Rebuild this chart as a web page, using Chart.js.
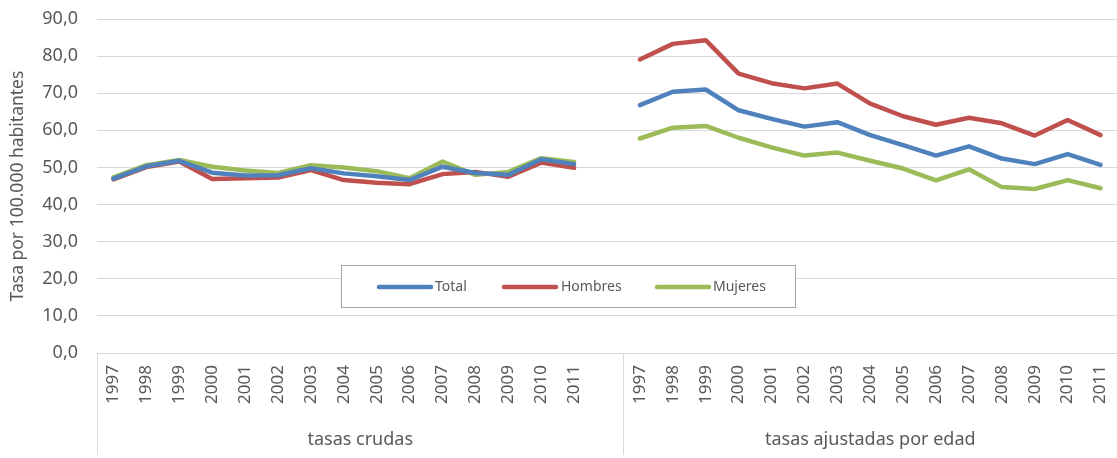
<!DOCTYPE html>
<html lang="es">
<head>
  <meta charset="UTF-8" />
  <title>Tasas crudas y ajustadas por edad</title>
  <script src="https://cdn.jsdelivr.net/npm/chart.js"></script>
  <style>
    html, body { margin: 0; padding: 0; background: #fff; }
    #wrap { width: 1117px; height: 458px; }
  </style>
</head>
<body>
  <div id="wrap"><canvas id="grafico"></canvas></div>

  <script>
    // Datos
    const anios = ['1997','1998','1999','2000','2001','2002','2003','2004','2005','2006','2007','2008','2009','2010','2011'];
    const grupos = ['tasas crudas', 'tasas ajustadas por edad'];
    const ticksY = [0, 10, 20, 30, 40, 50, 60, 70, 80, 90];

    const crudasTotal    = [47.0, 50.3, 51.8, 48.6, 47.8, 47.9, 49.8, 48.4, 47.6, 46.6, 50.2, 48.5, 48.0, 52.2, 50.9];
    const crudasHombres  = [46.8, 50.1, 51.6, 46.9, 47.1, 47.3, 49.3, 46.6, 45.9, 45.5, 48.2, 48.8, 47.5, 51.3, 49.9];
    const crudasMujeres  = [47.3, 50.6, 52.0, 50.2, 49.2, 48.5, 50.6, 50.0, 49.0, 47.1, 51.6, 48.0, 48.8, 52.5, 51.5];

    const ajustTotal     = [66.8, 70.4, 71.0, 65.4, 63.1, 61.0, 62.2, 58.7, 56.0, 53.2, 55.7, 52.4, 50.9, 53.6, 50.7];
    const ajustHombres   = [79.1, 83.3, 84.3, 75.3, 72.7, 71.3, 72.6, 67.2, 63.8, 61.5, 63.4, 61.9, 58.6, 62.8, 58.7];
    const ajustMujeres   = [57.8, 60.7, 61.2, 58.0, 55.4, 53.2, 54.0, 51.8, 49.7, 46.5, 49.5, 44.7, 44.2, 46.6, 44.4];

    const etiquetas = [...anios, '', ...anios];
    const unir = (a, b) => [...a, null, ...b];

    const azul = '#4f81bd', rojo = '#c0504d', verde = '#9bbb59';
    const gris = '#595959';
    const fuente = "'Noto Sans', sans-serif";

    // Separadores y etiquetas de grupo del eje X, y leyenda con recuadro
    const gruposPlugin = {
      id: 'gruposEje',
      afterDraw(chart) {
        const x = chart.scales.x;
        const c = chart.ctx;
        const paso = x.getPixelForValue(1) - x.getPixelForValue(0);
        const izq = x.getPixelForValue(0) - paso / 2;
        const medio = (x.getPixelForValue(15) + x.getPixelForValue(16)) / 2;
        const der = x.getPixelForValue(30) + paso / 2;
        const base = chart.chartArea.bottom;
        c.save();
        c.strokeStyle = '#d9d9d9';
        c.lineWidth = 1;
        [izq, medio].forEach(px => {
          c.beginPath();
          c.moveTo(Math.round(px) + 0.5, base);
          c.lineTo(Math.round(px) + 0.5, base + 102);
          c.stroke();
        });
        c.fillStyle = gris;
        c.font = '18px ' + fuente;
        c.textAlign = 'center';
        c.textBaseline = 'middle';
        c.fillText(grupos[0], (izq + medio) / 2, 440);
        c.fillText(grupos[1], (medio + der) / 2, 440);

        const bx = 341, by = 265, bw = 454, bh = 42;
        c.fillStyle = '#fff';
        c.fillRect(bx, by, bw, bh);
        c.strokeStyle = '#a6a6a6';
        c.strokeRect(bx + 0.5, by + 0.5, bw, bh);
        const items = [[379, 435], [504, 561], [657, 713]];
        chart.data.datasets.forEach((ds, i) => {
          const [sx, tx] = items[i];
          c.strokeStyle = ds.borderColor;
          c.lineWidth = 4.5;
          c.lineCap = 'round';
          c.beginPath();
          c.moveTo(sx, 287);
          c.lineTo(sx + 52, 287);
          c.stroke();
          c.fillStyle = gris;
          c.font = '14px ' + fuente;
          c.textAlign = 'left';
          c.fillText(ds.label, tx, 287);
        });
        c.restore();
      }
    };

    const serie = (label, data, color) => ({
      label, data,
      borderColor: color,
      backgroundColor: color,
      borderWidth: 4.5,
      borderCapStyle: 'round',
      borderJoinStyle: 'round',
      pointRadius: 0,
      tension: 0,
      spanGaps: false
    });

    new Chart(document.getElementById('grafico'), {
      type: 'line',
      data: {
        labels: etiquetas,
        datasets: [
          serie('Total', unir(crudasTotal, ajustTotal), azul),
          serie('Hombres', unir(crudasHombres, ajustHombres), rojo),
          serie('Mujeres', unir(crudasMujeres, ajustMujeres), verde)
        ]
      },
      options: {
        responsive: true,
        maintainAspectRatio: false,
        animation: false,
        layout: { padding: { top: 19, right: 0, left: 0, bottom: 0 } },
        plugins: { legend: { display: false }, tooltip: { enabled: false } },
        scales: {
          x: {
            offset: true,
            grid: { display: false },
            border: { color: '#d9d9d9' },
            ticks: {
              color: gris, font: { family: fuente, size: 17 },
              minRotation: 90, maxRotation: 90, autoSkip: false, padding: 4
            },
            afterFit(s) { s.height = 105; s.paddingRight = 0; s.paddingLeft = 0; }
          },
          y: {
            min: 0, max: 90,
            afterBuildTicks(s) { s.ticks = ticksY.map(v => ({ value: v })); },
            grid: { color: '#d9d9d9', drawTicks: false },
            border: { display: false },
            ticks: {
              color: gris, font: { family: fuente, size: 18 }, padding: 19,
              callback: v => v.toFixed(1).replace('.', ',')
            },
            title: {
              display: true, text: 'Tasa por 100.000 habitantes',
              color: gris, font: { family: fuente, size: 17.5 }, padding: { top: 8, bottom: 0 }
            },
            afterFit(s) { s.width = 97; s.paddingTop = 0; s.paddingBottom = 0; }
          }
        }
      },
      plugins: [gruposPlugin]
    });
  </script>
</body>
</html>
